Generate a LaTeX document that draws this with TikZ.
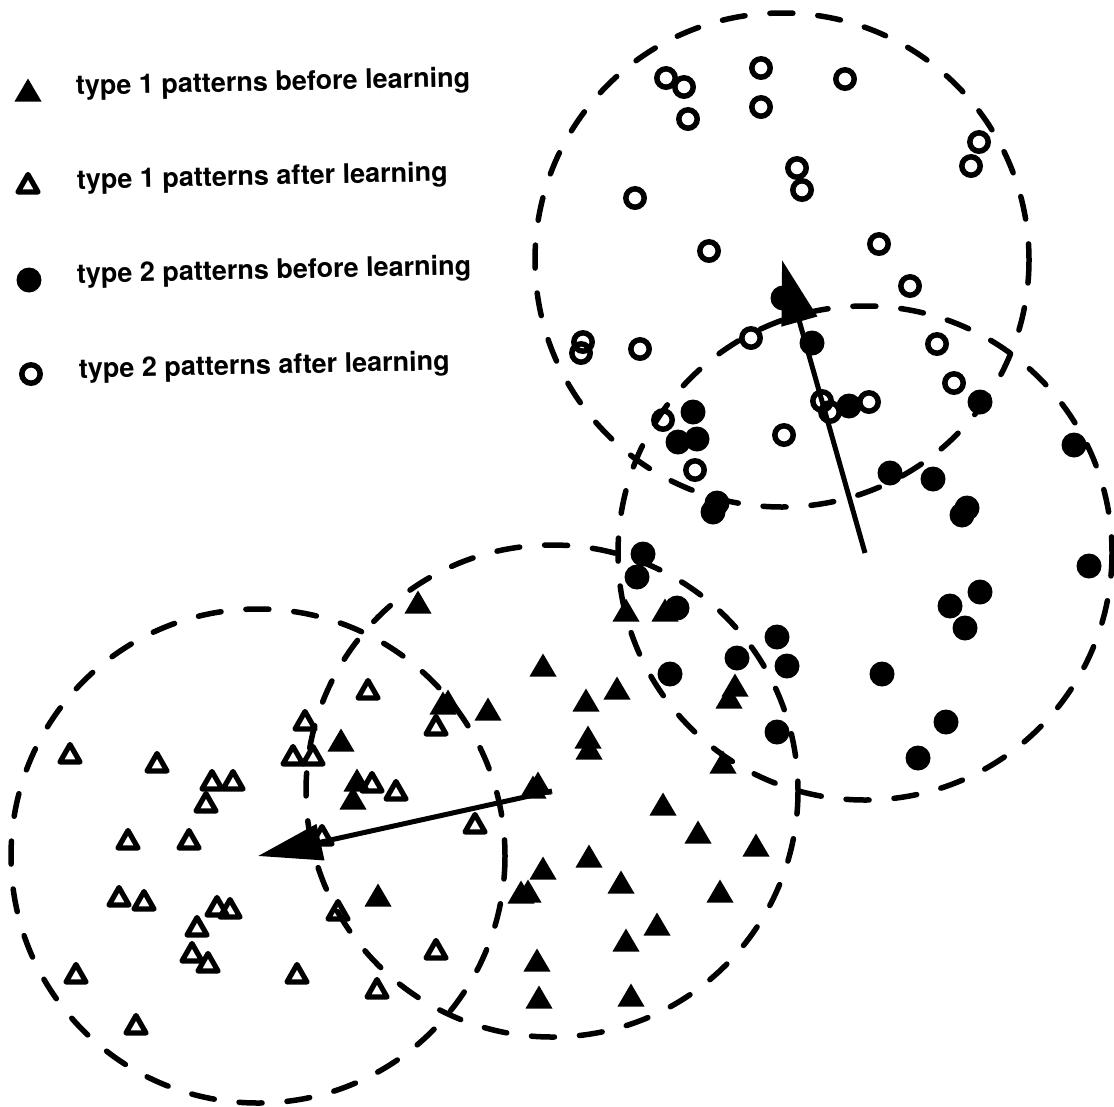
\documentclass[tikz,border=0pt]{standalone}
\usepackage{fontspec}
\setmainfont{TeX Gyre Heros}
\usetikzlibrary{arrows.meta}
\begin{document}
\begin{tikzpicture}[x=1pt,y=-1pt,
  ftri/.pic={\fill[black] (-13.5,11.5) -- (13.5,11.5) -- (0,-11.5) -- cycle;},
  otri/.pic={\draw[black,line width=5.2pt,line join=round] (-10,9) -- (10,9) -- (0,-8.5) -- cycle;},
  fdot/.pic={\fill[black] (0,0) circle[radius=12.5];},
  ocirc/.pic={\draw[black,line width=5.5pt] (0,0) circle[radius=9.2];},
  zone/.style={draw=black,line width=5.5pt,line cap=round,dash pattern=on 23pt off 25pt},
  movearrow/.style={draw=black,line width=5pt,-{Triangle[length=64pt,width=36pt]}},
  legendtext/.style={anchor=base west,inner sep=0pt,font=\fontsize{27}{30}\selectfont\bfseries,rotate=1.2}
]
\useasboundingbox (0,0) rectangle (1114,1106);
\fill[white] (0,0) rectangle (1114,1106);

% circle centres
\coordinate (c1) at (782,260);
\coordinate (c2) at (865,553);
\coordinate (c3) at (552,791);
\coordinate (c4) at (258,856);

% dashed circles
\draw[zone] (c1) circle[radius=247];
\draw[zone] (c2) circle[radius=247];
\draw[zone] (c3) circle[radius=246];
\draw[zone] (c4) circle[radius=247];

% type 2 after learning (open circles)
\foreach \px/\py in {666/78,684/87,761/68,688/119,761/107,845/79,797/168,802/190,
  979/142,971/166,635/198,709/251,879/244,910/286,583/342,581/353,640/349,751/338,
  937/344,954/383,822/401,830/412,869/402,663/420,784/435,695/470}
  \pic at (\px,\py) {ocirc};

% type 2 before learning (filled dots)
\foreach \px/\py in {783/298,812/343,849/406,980/402,693/412,678/442,697/439,1074/445,
  890/473,933/479,962/515,967/508,717/503,713/512,643/554,637/577,1089/566,980/592,
  950/606,965/628,677/608,777/637,737/658,787/666,670/674,882/674,777/732,946/722,918/758}
  \pic at (\px,\py) {fdot};

% type 1 before learning (filled triangles)
\foreach \px/\py in {418/602,626/610,665/610,543/665,617/688,586/700,443/703,448/701,
  488/709,735/685,729/697,588/737,589/748,341/740,723/762,357/780,353/798,533/787,
  538/783,663/804,698/832,756/845,589/856,543/868,521/892,528/891,621/882,720/891,
  378/895,657/924,626/940,537/960,631/995,539/997}
  \pic at (\px,\py) {ftri};

% type 1 after learning (open triangles)
\foreach \px/\py in {368/689,305/720,436/725,70/753,157/762,293/755,313/755,212/780,
  233/780,372/782,396/790,206/802,475/823,128/839,189/839,322/835,119/896,144/900,
  217/906,230/908,338/910,197/926,192/952,208/962,436/949,76/973,297/973,377/988,136/1024}
  \pic at (\px,\py) {otri};

% shift arrows
\draw[movearrow] (c2) -- (c1);
\draw[movearrow] (c3) -- (c4);

% legend
\pic at (28,90) {ftri};
\pic at (28,183) {otri};
\pic at (29,280) {fdot};
\pic at (31,374) {ocirc};
\node[legendtext] (l1) at (76,95) {type 1 patterns before learning};
\node[legendtext] (l2) at (77,189) {type 1 patterns after learning};
\node[legendtext] (l3) at (77,283) {type 2 patterns before learning};
\node[legendtext] (l4) at (79,378) {type 2 patterns after learning};
\end{tikzpicture}
\end{document}
